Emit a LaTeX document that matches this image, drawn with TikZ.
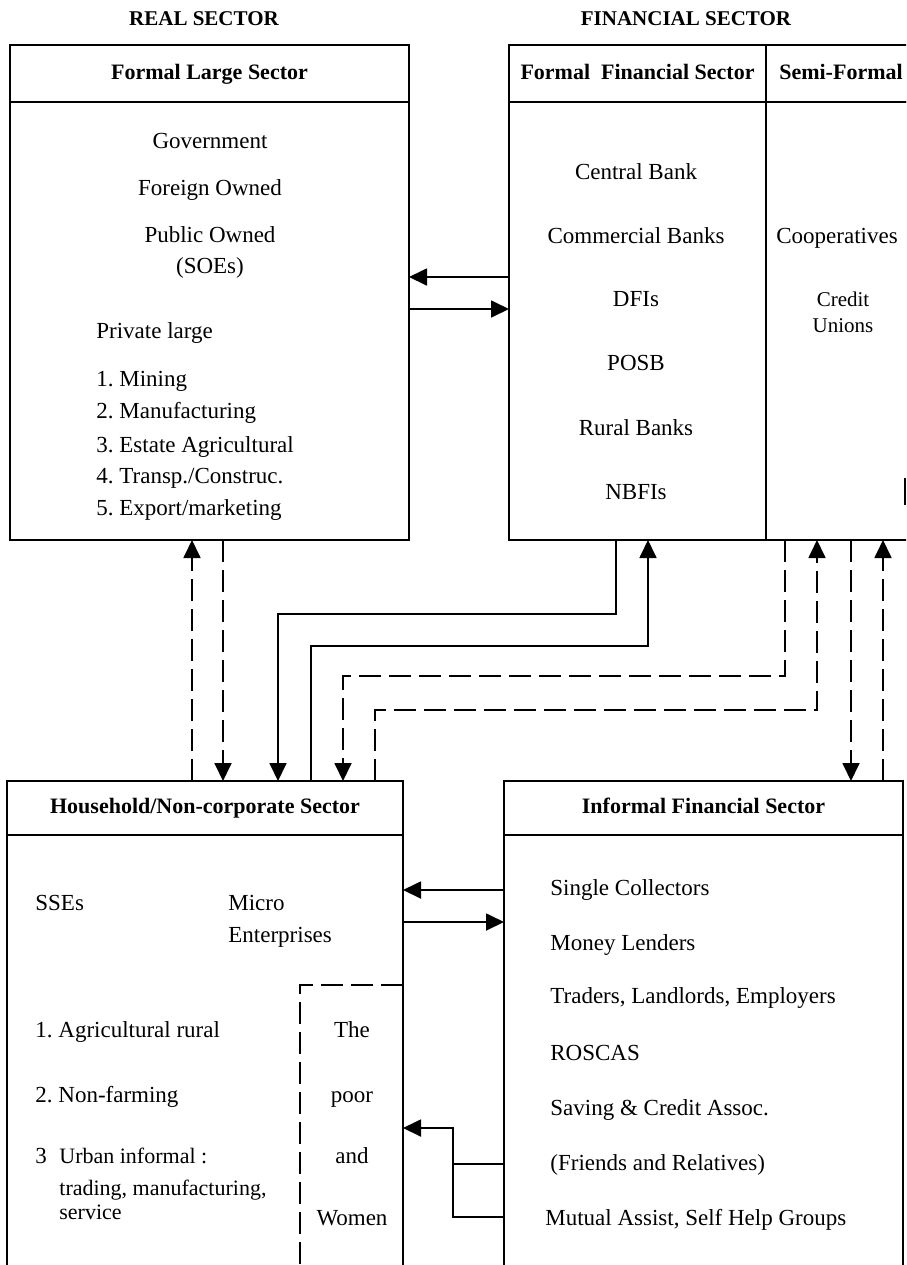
\documentclass[tikz,border=0pt]{standalone}
\usepackage{fontspec}
\setmainfont{Liberation Serif}
\usetikzlibrary{positioning, arrows.meta}
\frenchspacing

\begin{document}
\begin{tikzpicture}[
    x=0.5pt, y=-0.5pt,
    node distance=0pt,
    hdr/.style={rectangle, draw=black, line width=1.4pt, inner sep=0pt, outer sep=0pt, align=center, font=\bfseries\fontsize{11}{13}\selectfont, text height=8pt, text depth=2.5pt},
    body/.style={rectangle, draw=black, line width=1.4pt, inner sep=0pt, outer sep=0pt},
    title/.style={anchor=base, inner sep=0pt, font=\bfseries\fontsize{10.5}{12}\selectfont},
    item/.style={anchor=base west, inner sep=0pt, font=\fontsize{11.5}{14}\selectfont},
    citem/.style={anchor=base, inner sep=0pt, font=\fontsize{11.5}{14}\selectfont},
    sitem/.style={anchor=base west, inner sep=0pt, font=\fontsize{11}{12}\selectfont},
    arrow/.style={-{Triangle[length=9pt, width=8.5pt]}, line width=0.9pt},
    darrow/.style={arrow, dash pattern=on 11pt off 4pt}
]
\useasboundingbox (0,0) rectangle (906,1265);
\clip (0,0) rectangle (906,1265);

% ========== TITLES ==========
\node[title] (real) at (204,25) {REAL SECTOR};
\node[title] (fin) at (686,25) {FINANCIAL SECTOR};

% ========== FORMAL LARGE SECTOR ==========
\node[hdr, anchor=north west, minimum width=199.5pt, minimum height=28.5pt] (flh) at (10,45) {Formal Large Sector};
\node[body, below=of flh, minimum width=199.5pt, minimum height=219pt] (flb) {};

\node[citem] (gov) at (210,148) {Government};
\node[citem] (foreign) at (210,195) {Foreign Owned};
\node[citem] (public) at (210,242) {Public Owned};
\node[citem] (soe) at (210,273) {(SOEs)};
\node[item] (private) at (96,338) {Private large};
\node[item] (mining) at (96,386) {1. Mining};
\node[item] (manuf) at (96,418) {2. Manufacturing};
\node[item] (estate) at (96,452) {3. Estate Agricultural};
\node[item] (transp) at (96,483) {4. Transp./Construc.};
\node[item] (export) at (96,515) {5. Export/marketing};

% ========== FORMAL FINANCIAL / SEMI-FORMAL ==========
\node[hdr, anchor=north west, minimum width=128.5pt, minimum height=28.5pt] (ffh) at (509,45) {Formal\ \ Financial Sector};
\node[body, below=of ffh, minimum width=128.5pt, minimum height=219pt] (ffb) {};
\node[hdr, right=of ffh, minimum width=75pt, minimum height=28.5pt] (smh) {Semi-Formal};
\node[body, below=of smh, minimum width=75pt, minimum height=219pt] (smb) {};
\draw[line width=1.4pt] (905,478) -- (905,505);

\node[citem] (central) at (636,179) {Central Bank};
\node[citem] (commercial) at (636,243) {Commercial Banks};
\node[citem] (dfi) at (636,306) {DFIs};
\node[citem] (posb) at (636,370) {POSB};
\node[citem] (rural) at (636,435) {Rural Banks};
\node[citem] (nbfi) at (636,499) {NBFIs};

\node[citem] (coop) at (837,243) {Cooperatives};
\node[citem, font=\fontsize{10.5}{12}\selectfont] (credit) at (843,306) {Credit};
\node[citem, font=\fontsize{10.5}{12}\selectfont] (unions) at (843,332) {Unions};

% ========== HOUSEHOLD/NON-CORPORATE ==========
\node[hdr, anchor=north west, minimum width=198pt, minimum height=27pt] (hhh) at (7,781) {Household/Non-corporate Sector};
\node[body, below=of hhh, minimum width=198pt, minimum height=225pt] (hhb) {};

\node[item] (sse) at (35,910) {SSEs};
\node[item] (micro) at (228,910) {Micro};
\node[item] (enter) at (228,942) {Enterprises};
\node[item] (agri) at (35,1037) {1. Agricultural rural};
\node[item] (nonfarm) at (35,1102) {2. Non-farming};
\node[item] (three) at (35,1163) {3};
\node[sitem] (urban) at (59,1163) {Urban informal :};
\node[sitem] (trading) at (59,1195) {trading, manufacturing,};
\node[sitem] (service) at (59,1219) {service};

% the poor and women
\draw[line width=1pt, dash pattern=on 11pt off 4pt] (hhb.east |- 0,985) -| (300,1270);
\node[citem] (the) at (352,1037) {The};
\node[citem] (poor) at (352,1102) {poor};
\node[citem] (and) at (352,1163) {and};
\node[citem] (women) at (352,1225) {Women};

% ========== INFORMAL FINANCIAL ==========
\node[hdr, anchor=north west, minimum width=199.5pt, minimum height=27pt] (ifh) at (504,781) {Informal Financial Sector};
\node[body, below=of ifh, minimum width=199.5pt, minimum height=225pt] (ifb) {};

\node[item] (single) at (550,895) {Single Collectors};
\node[item] (money) at (550,950) {Money Lenders};
\node[item] (traders) at (550,1003) {Traders, Landlords, Employers};
\node[item] (roscas) at (550,1060) {ROSCAS};
\node[item] (saving) at (550,1115) {Saving \& Credit Assoc.};
\node[item] (friends) at (550,1170) {(Friends and Relatives)};
\node[item] (mutual) at (545,1225) {Mutual Assist, Self Help Groups};

% ========== ARROWS ==========
\draw[arrow] (ffb.west |- 0,277) -- (flb.east |- 0,277);
\draw[arrow] (flb.east |- 0,309) -- (ffb.west |- 0,309);

\draw[darrow] (hhh.north -| 192,0) -- (flb.south -| 192,0);
\draw[darrow] (flb.south -| 223,0) -- (hhh.north -| 223,0);

\draw[arrow] (ffb.south -| 616,0) |- (278,614) -- (hhh.north -| 278,0);
\draw[arrow] (hhh.north -| 311,0) |- (648,646) -- (ffb.south -| 648,0);

\draw[darrow] (smb.south -| 785,0) |- (343,676) -- (hhh.north -| 343,0);
\draw[darrow] (hhh.north -| 375,0) |- (817,710) -- (smb.south -| 817,0);

\draw[darrow] (smb.south -| 851,0) -- (ifh.north -| 851,0);
\draw[darrow] (ifh.north -| 883,0) -- (smb.south -| 883,0);

\draw[arrow] (ifb.west |- 0,890) -- (hhb.east |- 0,890);
\draw[arrow] (hhb.east |- 0,922) -- (ifb.west |- 0,922);
\draw[arrow] (ifb.west |- 0,1164) -| (453,1128) -- (hhb.east |- 0,1128);
\draw[line width=0.9pt] (ifb.west |- 0,1217) -| (453,1164);

\end{tikzpicture}
\end{document}
